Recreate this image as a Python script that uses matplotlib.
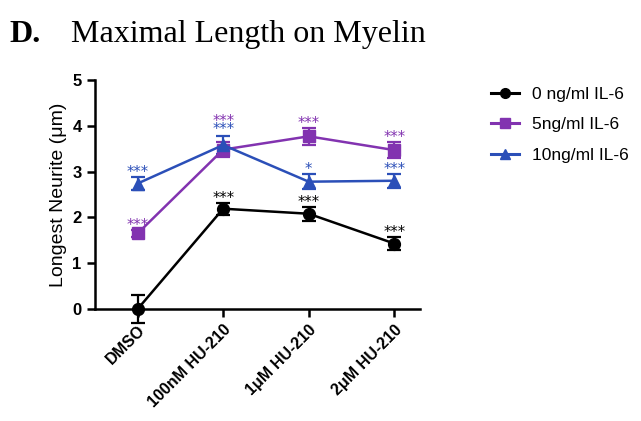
import matplotlib
matplotlib.use("Agg")
import matplotlib.pyplot as plt
from matplotlib.lines import Line2D

categories = ["DMSO", "100nM HU-210", "1\u03bcM HU-210", "2\u03bcM HU-210"]
series_names = ["0 ng/ml IL-6", "5ng/ml IL-6", "10ng/ml IL-6"]
vals_0 = [0.0, 2.19, 2.08, 1.43]
err_0 = [0.30, 0.13, 0.15, 0.14]
vals_5 = [1.65, 3.48, 3.77, 3.47]
err_5 = [0.08, 0.17, 0.18, 0.17]
vals_10 = [2.74, 3.58, 2.78, 2.80]
err_10 = [0.15, 0.20, 0.16, 0.15]
stars_0 = ["", "***", "***", "***"]
stars_5 = ["***", "***", "***", "***"]
stars_10 = ["***", "***", "*", "***"]
yticks = [0, 1, 2, 3, 4, 5]

colors = ["#000000", "#8233b0", "#2b4fb8"]
markers = ["o", "s", "^"]

plt.rcParams['font.family'] = ['Liberation Sans', 'DejaVu Sans']
fig = plt.figure(figsize=(6.41, 4.21), dpi=100)
ax = fig.add_axes([0.148, 0.266, 0.507, 0.544])

x = list(range(len(categories)))
all_vals = [vals_0, vals_5, vals_10]
all_err = [err_0, err_5, err_10]
all_stars = [stars_0, stars_5, stars_10]
handles = []
for v, e, c, m, name in zip(all_vals, all_err, colors, markers, series_names):
    ax.errorbar(x, v, yerr=e, color=c, marker=m, markersize=8.5, linewidth=1.8,
                capsize=5, capthick=1.6, elinewidth=1.6, clip_on=False, zorder=3)
    handles.append(Line2D([], [], color=c, marker=m, markersize=7, linewidth=2.2, label=name))

for si, (v, e, s, c) in enumerate(zip(all_vals, all_err, all_stars, colors)):
    for i in x:
        if not s[i]:
            continue
        yy = v[i] + e[i] + 0.1
        if si == 1 and i == 1:
            yy = 4.1
        if si == 2 and i == 1:
            yy = 3.92
        ax.text(i, yy, s[i], color=c, ha='center', va='center', fontsize=10.5,
                family=['DejaVu Sans'])

ax.set_xlim(-0.5, 3.3)
ax.set_ylim(0, 5)
ax.set_yticks(yticks)
ax.set_xticks(x)
ax.set_xticklabels(categories, rotation=45, ha='right', rotation_mode='anchor',
                   fontsize=11.5, fontweight='bold')
for lab in ax.get_yticklabels():
    lab.set_fontweight('bold')
    lab.set_fontsize(12)
ax.spines['top'].set_visible(False)
ax.spines['right'].set_visible(False)
ax.spines['left'].set_linewidth(1.8)
ax.spines['bottom'].set_linewidth(1.8)
ax.tick_params(width=1.8, length=6)
ax.set_ylabel("Longest Neurite (\u03bcm)", fontsize=14)

leg = ax.legend(handles=handles, loc='upper left', bbox_to_anchor=(1.17, 1.04), frameon=False,
                fontsize=12.5, handlelength=1.6, labelspacing=0.9)

fig.text(0.015, 0.918, "D.", fontsize=23, fontweight='bold', family=['Liberation Serif'], va='center')
fig.text(0.11, 0.918, "Maximal Length on Myelin", fontsize=23, family=['Liberation Serif'], va='center')

fig.savefig("out.png", dpi=100)
